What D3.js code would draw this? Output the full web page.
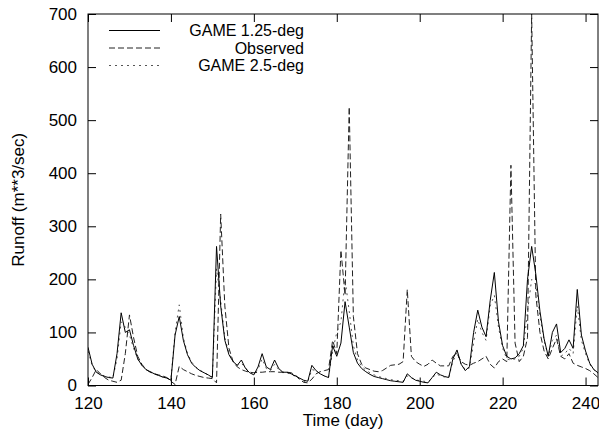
<!DOCTYPE html>
<html>
<head>
<meta charset="utf-8">
<script src="https://cdn.jsdelivr.net/npm/d3@7"></script>
<style>
  body { margin: 0; background: #fff; }
  svg { display: block; }
  text { font-family: "Liberation Sans", Arial, sans-serif; fill: #000; }
</style>
</head>
<body>
<svg id="chart" width="599" height="435"></svg>
<script>
// days 120 .. 243, one value per day
const startDay = 120;
const g125 = [72, 40, 25, 20, 17, 15, 14, 60, 137, 100, 105, 75, 50, 38, 30, 26, 22, 19, 16, 14,
  10, 95, 130, 85, 58, 42, 34, 28, 24, 20, 15, 262, 150, 85, 58, 45, 38, 48, 32, 24,
  20, 35, 60, 35, 30, 48, 32, 25, 25, 22, 18, 14, 10, 8, 38, 28, 22, 18, 15, 75,
  55, 80, 158, 110, 62, 42, 32, 26, 21, 17, 15, 13, 11, 9, 8, 7, 6, 22, 15, 10,
  8, 6, 5, 15, 25, 20, 17, 15, 50, 67, 40, 28, 36, 100, 142, 110, 92, 160, 213, 120,
  75, 55, 50, 52, 60, 75, 200, 262, 210, 140, 88, 55, 100, 116, 62, 70, 86, 70, 181, 95,
  65, 42, 30, 24];
const observed = [2, 15, 30, 22, 15, 10, 8, 6, 10, 60, 133, 90, 55, 40, 30, 25, 22, 20, 18, 15,
  8, 2, 36, 30, 26, 22, 19, 17, 15, 14, 13, 5, 323, 150, 70, 45, 35, 30, 27, 25,
  24, 25, 25, 26, 26, 26, 25, 25, 25, 24, 20, 12, 6, 5, 12, 22, 26, 28, 30, 85,
  60, 255, 170, 525, 130, 60, 40, 33, 30, 27, 26, 28, 33, 38, 39, 40, 45, 181, 55, 45,
  40, 36, 40, 48, 42, 37, 37, 37, 55, 60, 45, 40, 38, 42, 45, 50, 55, 40, 33, 45,
  50, 45, 415, 80, 45, 55, 90, 700, 170, 100, 65, 50, 70, 88, 55, 50, 60, 42, 38, 35,
  32, 28, 22, 15];
const g25 = [65, 38, 26, 21, 18, 16, 15, 50, 120, 110, 95, 70, 50, 38, 30, 26, 22, 19, 16, 14,
  12, 100, 152, 90, 60, 44, 35, 29, 24, 20, 16, 220, 160, 90, 60, 46, 38, 42, 33, 26,
  22, 30, 50, 32, 28, 40, 30, 24, 24, 21, 17, 12, 8, 7, 30, 28, 22, 18, 15, 65,
  100, 120, 200, 140, 75, 48, 36, 29, 24, 20, 17, 15, 13, 11, 10, 9, 8, 18, 14, 11,
  9, 8, 7, 14, 22, 18, 16, 15, 45, 62, 40, 30, 33, 80, 125, 100, 85, 150, 170, 110,
  70, 50, 48, 50, 55, 70, 140, 200, 190, 130, 85, 55, 85, 95, 55, 60, 70, 60, 150, 85,
  60, 40, 30, 22];

const xTicks = [120, 140, 160, 180, 200, 220, 240];
const yTicks = [0, 100, 200, 300, 400, 500, 600, 700];
const seriesNames = ["GAME 1.25-deg", "Observed", "GAME 2.5-deg"];

const svg = d3.select("#chart");
const plotL = 88, plotR = 598, plotT = 14, plotB = 385.5;

const x = d3.scaleLinear().domain([120, 243]).range([plotL, plotR]);
const y = d3.scaleLinear().domain([0, 700]).range([plotB, plotT]);

const styles = [
  { stroke: "#000", dash: null },
  { stroke: "#222", dash: "6,3" },
  { stroke: "#555", dash: "2,4" }
];

// data lines
const allSeries = [g125, observed, g25];
const line = d3.line().x((d, i) => x(startDay + i)).y(d => y(d));
svg.append("clipPath").attr("id", "clip").append("rect")
  .attr("x", plotL).attr("y", plotT).attr("width", plotR - plotL).attr("height", plotB - plotT);

// draw observed and 2.5 first so the solid line sits on top
[2, 1, 0].forEach(k => {
  svg.append("path")
    .datum(allSeries[k])
    .attr("clip-path", "url(#clip)")
    .attr("fill", "none")
    .attr("stroke", styles[k].stroke)
    .attr("stroke-width", 1)
    .attr("stroke-dasharray", styles[k].dash)
    .attr("d", line);
});

// axes, ticks point inward and are mirrored
const tl = 8;
svg.append("g").attr("transform", `translate(0,${plotB})`)
  .call(d3.axisBottom(x).tickValues(xTicks).tickSize(-tl).tickPadding(11))
  .call(g => g.select(".domain").remove());
svg.append("g").attr("transform", `translate(0,${plotT})`)
  .call(d3.axisTop(x).tickValues(xTicks).tickSize(-tl).tickFormat(""))
  .call(g => g.select(".domain").remove());
svg.append("g").attr("transform", `translate(${plotL},0)`)
  .call(d3.axisLeft(y).tickValues(yTicks).tickSize(-tl).tickPadding(11))
  .call(g => g.select(".domain").remove());
svg.append("g").attr("transform", `translate(${plotR},0)`)
  .call(d3.axisRight(y).tickValues(yTicks).tickSize(-tl).tickFormat(""))
  .call(g => g.select(".domain").remove());

svg.selectAll(".tick text")
  .style("font-family", "'Liberation Sans', Arial, sans-serif")
  .style("font-size", "17px").attr("fill", "#000");
svg.selectAll(".tick line").attr("stroke", "#000");

svg.append("rect")
  .attr("x", plotL).attr("y", plotT).attr("width", plotR - plotL).attr("height", plotB - plotT)
  .attr("fill", "none").attr("stroke", "#000").attr("stroke-width", 1);

// axis titles
svg.append("text")
  .attr("x", (plotL + plotR) / 2).attr("y", 426)
  .attr("text-anchor", "middle").style("font-size", "17px")
  .text("Time (day)");
svg.append("text")
  .attr("transform", `translate(24,${(plotT + plotB) / 2}) rotate(-90)`)
  .attr("text-anchor", "middle").style("font-size", "17px")
  .text("Runoff (m**3/sec)");

// legend, text right-justified like gnuplot
const legY = [30.5, 48, 65.5];
seriesNames.forEach((name, k) => {
  svg.append("line")
    .attr("x1", 109).attr("x2", 160).attr("y1", legY[k]).attr("y2", legY[k])
    .attr("stroke", styles[k].stroke).attr("stroke-width", 1)
    .attr("stroke-dasharray", styles[k].dash);
  svg.append("text")
    .attr("x", 304).attr("y", legY[k] + 5.5)
    .attr("text-anchor", "end").style("font-size", "16px")
    .text(name);
});
</script>
</body>
</html>
